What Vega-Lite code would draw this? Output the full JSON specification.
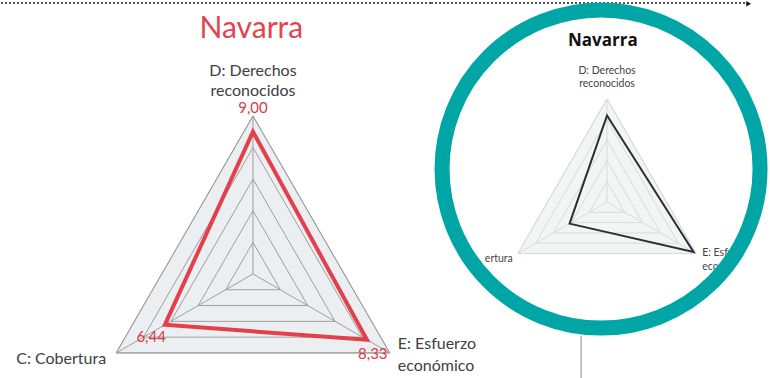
{
  "$schema": "https://vega.github.io/schema/vega-lite/v6.json",
  "background": "white",
  "padding": 0,
  "spacing": 0,
  "bounds": "flush",
  "datasets": {
    "axes": [
      {"axis": "D", "i": 0, "name": "D: Derechos\nreconocidos"},
      {"axis": "E", "i": 1, "name": "E: Esfuerzo\neconómico"},
      {"axis": "C", "i": 2, "name": "C: Cobertura"}
    ],
    "insetAxes": [
      {"axis": "D", "i": 0, "name": "D: Derechos\nreconocidos"},
      {"axis": "E", "i": 1, "name": "E: Esfu\necon"},
      {"axis": "C", "i": 2, "name": "ertura"}
    ],
    "main": [
      {"axis": "D", "i": 0, "v": 9.00},
      {"axis": "E", "i": 1, "v": 8.33},
      {"axis": "C", "i": 2, "v": 6.44}
    ],
    "inset": [
      {"axis": "D", "i": 0, "v": 8.4},
      {"axis": "E", "i": 1, "v": 9.7},
      {"axis": "C", "i": 2, "v": 4.2}
    ],
    "rings": [
      {"level": 2, "i": 0}, {"level": 2, "i": 1}, {"level": 2, "i": 2},
      {"level": 4, "i": 0}, {"level": 4, "i": 1}, {"level": 4, "i": 2},
      {"level": 6, "i": 0}, {"level": 6, "i": 1}, {"level": 6, "i": 2},
      {"level": 8, "i": 0}, {"level": 8, "i": 1}, {"level": 8, "i": 2},
      {"level": 10, "i": 0}, {"level": 10, "i": 1}, {"level": 10, "i": 2}
    ],
    "titles": [{"t": "Navarra"}]
  },
  "hconcat": [
    {
      "width": 430,
      "height": 378,
      "layer": [
        {
          "data": {"name": "titles"},
          "mark": {"type": "rule", "strokeDash": [2, 2], "color": "#222", "strokeWidth": 1.5},
          "encoding": {
            "x": {"datum": -15.95, "type": "quantitative", "scale": {"domain": [-15.95, 11.27], "nice": false, "zero": false}, "axis": null},
            "x2": {"datum": 11.27},
            "y": {"datum": 17.15, "type": "quantitative", "scale": {"domain": [-6.65, 17.28], "nice": false, "zero": false}, "axis": null}
          }
        },
        {
          "data": {"name": "rings"},
          "transform": [
            {"filter": "datum.level == 10"},
            {"calculate": "datum.level * sin(datum.i * 2 * PI / 3)", "as": "x"},
            {"calculate": "datum.level * cos(datum.i * 2 * PI / 3)", "as": "y"}
          ],
          "mark": {"type": "line", "interpolate": "linear-closed", "fill": "#eceff1", "stroke": "#9a9a9a", "strokeWidth": 1},
          "encoding": {
            "x": {"field": "x", "type": "quantitative", "scale": {"domain": [-15.95, 11.27], "nice": false, "zero": false}, "axis": null},
            "y": {"field": "y", "type": "quantitative", "scale": {"domain": [-6.65, 17.28], "nice": false, "zero": false}, "axis": null},
            "order": {"field": "i"}
          }
        },
        {
          "data": {"name": "rings"},
          "transform": [
            {"calculate": "datum.level * sin(datum.i * 2 * PI / 3)", "as": "x"},
            {"calculate": "datum.level * cos(datum.i * 2 * PI / 3)", "as": "y"}
          ],
          "mark": {"type": "line", "interpolate": "linear-closed", "stroke": "#9e9e9e", "strokeWidth": 1},
          "encoding": {
            "x": {"field": "x", "type": "quantitative", "scale": {"domain": [-15.95, 11.27], "nice": false, "zero": false}, "axis": null},
            "y": {"field": "y", "type": "quantitative", "scale": {"domain": [-6.65, 17.28], "nice": false, "zero": false}, "axis": null},
            "detail": {"field": "level"},
            "order": {"field": "i"}
          }
        },
        {
          "data": {"name": "axes"},
          "transform": [
            {"calculate": "10 * sin(datum.i * 2 * PI / 3)", "as": "x"},
            {"calculate": "10 * cos(datum.i * 2 * PI / 3)", "as": "y"}
          ],
          "mark": {"type": "rule", "stroke": "#9e9e9e", "strokeWidth": 1},
          "encoding": {
            "x": {"field": "x", "type": "quantitative", "scale": {"domain": [-15.95, 11.27], "nice": false, "zero": false}, "axis": null},
            "y": {"field": "y", "type": "quantitative", "scale": {"domain": [-6.65, 17.28], "nice": false, "zero": false}, "axis": null},
            "x2": {"datum": 0},
            "y2": {"datum": 0}
          }
        },
        {
          "data": {"name": "main"},
          "transform": [
            {"calculate": "datum.v * sin(datum.i * 2 * PI / 3)", "as": "x"},
            {"calculate": "datum.v * cos(datum.i * 2 * PI / 3)", "as": "y"}
          ],
          "mark": {"type": "line", "interpolate": "linear-closed", "stroke": "#e4404b", "strokeWidth": 4, "strokeJoin": "miter"},
          "encoding": {
            "x": {"field": "x", "type": "quantitative", "scale": {"domain": [-15.95, 11.27], "nice": false, "zero": false}, "axis": null},
            "y": {"field": "y", "type": "quantitative", "scale": {"domain": [-6.65, 17.28], "nice": false, "zero": false}, "axis": null},
            "order": {"field": "i"}
          }
        },
        {
          "data": {"name": "titles"},
          "mark": {"type": "text", "font": "Lato", "fontSize": 30, "color": "#e0464f", "align": "center", "baseline": "alphabetic"},
          "encoding": {
            "x": {"datum": -0.1, "type": "quantitative", "scale": {"domain": [-15.95, 11.27], "nice": false, "zero": false}, "axis": null},
            "y": {"datum": 14.94, "type": "quantitative", "scale": {"domain": [-6.65, 17.28], "nice": false, "zero": false}, "axis": null},
            "text": {"field": "t"}
          }
        },
        {
          "data": {"name": "axes"},
          "transform": [
            {"filter": "datum.axis == 'D'"},
            {"calculate": "10 * sin(datum.i * 2 * PI / 3)", "as": "x"},
            {"calculate": "10 * cos(datum.i * 2 * PI / 3)", "as": "y"}
          ],
          "mark": {"type": "text", "font": "Lato", "fontSize": 16, "color": "#404040", "align": "center", "baseline": "alphabetic", "dy": -40, "lineHeight": 20, "lineBreak": "\n"},
          "encoding": {
            "x": {"field": "x", "type": "quantitative", "scale": {"domain": [-15.95, 11.27], "nice": false, "zero": false}, "axis": null},
            "y": {"field": "y", "type": "quantitative", "scale": {"domain": [-6.65, 17.28], "nice": false, "zero": false}, "axis": null},
            "text": {"field": "name"}
          }
        },
        {
          "data": {"name": "axes"},
          "transform": [
            {"filter": "datum.axis == 'C'"},
            {"calculate": "10 * sin(datum.i * 2 * PI / 3)", "as": "x"},
            {"calculate": "10 * cos(datum.i * 2 * PI / 3)", "as": "y"}
          ],
          "mark": {"type": "text", "font": "Lato", "fontSize": 16, "color": "#404040", "align": "right", "baseline": "middle", "dx": -10, "dy": 6},
          "encoding": {
            "x": {"field": "x", "type": "quantitative", "scale": {"domain": [-15.95, 11.27], "nice": false, "zero": false}, "axis": null},
            "y": {"field": "y", "type": "quantitative", "scale": {"domain": [-6.65, 17.28], "nice": false, "zero": false}, "axis": null},
            "text": {"field": "name"}
          }
        },
        {
          "data": {"name": "axes"},
          "transform": [
            {"filter": "datum.axis == 'E'"},
            {"calculate": "10 * sin(datum.i * 2 * PI / 3)", "as": "x"},
            {"calculate": "10 * cos(datum.i * 2 * PI / 3)", "as": "y"}
          ],
          "mark": {"type": "text", "font": "Lato", "fontSize": 16, "color": "#404040", "align": "left", "baseline": "alphabetic", "dx": 8, "dy": -4, "lineHeight": 22, "lineBreak": "\n"},
          "encoding": {
            "x": {"field": "x", "type": "quantitative", "scale": {"domain": [-15.95, 11.27], "nice": false, "zero": false}, "axis": null},
            "y": {"field": "y", "type": "quantitative", "scale": {"domain": [-6.65, 17.28], "nice": false, "zero": false}, "axis": null},
            "text": {"field": "name"}
          }
        },
        {
          "data": {"name": "main"},
          "transform": [
            {"filter": "datum.axis == 'D'"},
            {"calculate": "10 * sin(datum.i * 2 * PI / 3)", "as": "x"},
            {"calculate": "10 * cos(datum.i * 2 * PI / 3)", "as": "y"}
          ],
          "mark": {"type": "text", "font": "Lato", "fontSize": 15, "color": "#d83a46", "align": "center", "baseline": "middle", "dy": -8},
          "encoding": {
            "x": {"field": "x", "type": "quantitative", "scale": {"domain": [-15.95, 11.27], "nice": false, "zero": false}, "axis": null},
            "y": {"field": "y", "type": "quantitative", "scale": {"domain": [-6.65, 17.28], "nice": false, "zero": false}, "axis": null},
            "text": {"field": "v", "type": "quantitative", "format": ".2f"}
          }
        },
        {
          "data": {"name": "main"},
          "transform": [
            {"filter": "datum.axis == 'C'"},
            {"calculate": "10 * sin(datum.i * 2 * PI / 3)", "as": "x"},
            {"calculate": "10 * cos(datum.i * 2 * PI / 3)", "as": "y"}
          ],
          "mark": {"type": "text", "font": "Lato", "fontSize": 15, "color": "#d83a46", "align": "center", "baseline": "middle", "dx": 35, "dy": -16},
          "encoding": {
            "x": {"field": "x", "type": "quantitative", "scale": {"domain": [-15.95, 11.27], "nice": false, "zero": false}, "axis": null},
            "y": {"field": "y", "type": "quantitative", "scale": {"domain": [-6.65, 17.28], "nice": false, "zero": false}, "axis": null},
            "text": {"field": "v", "type": "quantitative", "format": ".2f"}
          }
        },
        {
          "data": {"name": "main"},
          "transform": [
            {"filter": "datum.axis == 'E'"},
            {"calculate": "10 * sin(datum.i * 2 * PI / 3)", "as": "x"},
            {"calculate": "10 * cos(datum.i * 2 * PI / 3)", "as": "y"}
          ],
          "mark": {"type": "text", "font": "Lato", "fontSize": 15, "color": "#d83a46", "align": "center", "baseline": "middle", "dx": -17, "dy": 1},
          "encoding": {
            "x": {"field": "x", "type": "quantitative", "scale": {"domain": [-15.95, 11.27], "nice": false, "zero": false}, "axis": null},
            "y": {"field": "y", "type": "quantitative", "scale": {"domain": [-6.65, 17.28], "nice": false, "zero": false}, "axis": null},
            "text": {"field": "v", "type": "quantitative", "format": ".2f"}
          }
        }
      ]
    },
    {
      "width": 340,
      "height": 378,
      "layer": [
        {
          "data": {"name": "titles"},
          "mark": {"type": "rule", "strokeDash": [2, 2], "color": "#222", "strokeWidth": 1.5},
          "encoding": {
            "x": {"datum": -17.09, "type": "quantitative", "scale": {"domain": [-17.09, 15.92], "nice": false, "zero": false}, "axis": null},
            "x2": {"datum": 13.5},
            "y": {"datum": 19.32, "type": "quantitative", "scale": {"domain": [-17.18, 19.51], "nice": false, "zero": false}, "axis": null}
          }
        },
        {
          "data": {"name": "titles"},
          "mark": {"type": "point", "shape": "triangle-right", "filled": true, "color": "#111", "size": 30, "opacity": 1},
          "encoding": {
            "x": {"datum": 13.75, "type": "quantitative", "scale": {"domain": [-17.09, 15.92], "nice": false, "zero": false}, "axis": null},
            "y": {"datum": 19.25, "type": "quantitative", "scale": {"domain": [-17.18, 19.51], "nice": false, "zero": false}, "axis": null}
          }
        },
        {
          "data": {"name": "rings"},
          "transform": [
            {"filter": "datum.level == 10"},
            {"calculate": "datum.level * sin(datum.i * 2 * PI / 3)", "as": "x"},
            {"calculate": "datum.level * cos(datum.i * 2 * PI / 3)", "as": "y"}
          ],
          "mark": {"type": "line", "interpolate": "linear-closed", "fill": "#f3f4f4", "stroke": "#d4d4d4", "strokeWidth": 1},
          "encoding": {
            "x": {"field": "x", "type": "quantitative", "scale": {"domain": [-17.09, 15.92], "nice": false, "zero": false}, "axis": null},
            "y": {"field": "y", "type": "quantitative", "scale": {"domain": [-17.18, 19.51], "nice": false, "zero": false}, "axis": null},
            "order": {"field": "i"}
          }
        },
        {
          "data": {"name": "rings"},
          "transform": [
            {"calculate": "datum.level * sin(datum.i * 2 * PI / 3)", "as": "x"},
            {"calculate": "datum.level * cos(datum.i * 2 * PI / 3)", "as": "y"}
          ],
          "mark": {"type": "line", "interpolate": "linear-closed", "stroke": "#dadada", "strokeWidth": 1},
          "encoding": {
            "x": {"field": "x", "type": "quantitative", "scale": {"domain": [-17.09, 15.92], "nice": false, "zero": false}, "axis": null},
            "y": {"field": "y", "type": "quantitative", "scale": {"domain": [-17.18, 19.51], "nice": false, "zero": false}, "axis": null},
            "detail": {"field": "level"},
            "order": {"field": "i"}
          }
        },
        {
          "data": {"name": "insetAxes"},
          "transform": [
            {"calculate": "10 * sin(datum.i * 2 * PI / 3)", "as": "x"},
            {"calculate": "10 * cos(datum.i * 2 * PI / 3)", "as": "y"}
          ],
          "mark": {"type": "rule", "stroke": "#dadada", "strokeWidth": 1},
          "encoding": {
            "x": {"field": "x", "type": "quantitative", "scale": {"domain": [-17.09, 15.92], "nice": false, "zero": false}, "axis": null},
            "y": {"field": "y", "type": "quantitative", "scale": {"domain": [-17.18, 19.51], "nice": false, "zero": false}, "axis": null},
            "x2": {"datum": 0},
            "y2": {"datum": 0}
          }
        },
        {
          "data": {"name": "inset"},
          "transform": [
            {"calculate": "datum.v * sin(datum.i * 2 * PI / 3)", "as": "x"},
            {"calculate": "datum.v * cos(datum.i * 2 * PI / 3)", "as": "y"}
          ],
          "mark": {"type": "line", "interpolate": "linear-closed", "stroke": "#2e2e2e", "strokeWidth": 2},
          "encoding": {
            "x": {"field": "x", "type": "quantitative", "scale": {"domain": [-17.09, 15.92], "nice": false, "zero": false}, "axis": null},
            "y": {"field": "y", "type": "quantitative", "scale": {"domain": [-17.18, 19.51], "nice": false, "zero": false}, "axis": null},
            "order": {"field": "i"}
          }
        },
        {
          "data": {"name": "titles"},
          "mark": {"type": "text", "font": "Open Sans", "fontSize": 17, "fontWeight": "bold", "color": "#111", "align": "center", "baseline": "alphabetic"},
          "encoding": {
            "x": {"datum": -0.4, "type": "quantitative", "scale": {"domain": [-17.09, 15.92], "nice": false, "zero": false}, "axis": null},
            "y": {"datum": 15.15, "type": "quantitative", "scale": {"domain": [-17.18, 19.51], "nice": false, "zero": false}, "axis": null},
            "text": {"field": "t"}
          }
        },
        {
          "data": {"name": "insetAxes"},
          "transform": [
            {"filter": "datum.axis == 'D'"},
            {"calculate": "10 * sin(datum.i * 2 * PI / 3)", "as": "x"},
            {"calculate": "10 * cos(datum.i * 2 * PI / 3)", "as": "y"}
          ],
          "mark": {"type": "text", "font": "Lato", "fontSize": 10.5, "color": "#444", "align": "center", "baseline": "alphabetic", "dy": -25, "lineHeight": 13, "lineBreak": "\n"},
          "encoding": {
            "x": {"field": "x", "type": "quantitative", "scale": {"domain": [-17.09, 15.92], "nice": false, "zero": false}, "axis": null},
            "y": {"field": "y", "type": "quantitative", "scale": {"domain": [-17.18, 19.51], "nice": false, "zero": false}, "axis": null},
            "text": {"field": "name"}
          }
        },
        {
          "data": {"name": "insetAxes"},
          "transform": [
            {"filter": "datum.axis == 'C'"},
            {"calculate": "10 * sin(datum.i * 2 * PI / 3)", "as": "x"},
            {"calculate": "10 * cos(datum.i * 2 * PI / 3)", "as": "y"}
          ],
          "mark": {"type": "text", "font": "Lato", "fontSize": 10.5, "color": "#444", "align": "right", "baseline": "middle", "dx": -5, "dy": 5},
          "encoding": {
            "x": {"field": "x", "type": "quantitative", "scale": {"domain": [-17.09, 15.92], "nice": false, "zero": false}, "axis": null},
            "y": {"field": "y", "type": "quantitative", "scale": {"domain": [-17.18, 19.51], "nice": false, "zero": false}, "axis": null},
            "text": {"field": "name"}
          }
        },
        {
          "data": {"name": "insetAxes"},
          "transform": [
            {"filter": "datum.axis == 'E'"},
            {"calculate": "10 * sin(datum.i * 2 * PI / 3)", "as": "x"},
            {"calculate": "10 * cos(datum.i * 2 * PI / 3)", "as": "y"}
          ],
          "mark": {"type": "text", "font": "Lato", "fontSize": 10.5, "color": "#444", "align": "left", "baseline": "alphabetic", "dx": 6, "dy": 2, "lineHeight": 14, "lineBreak": "\n"},
          "encoding": {
            "x": {"field": "x", "type": "quantitative", "scale": {"domain": [-17.09, 15.92], "nice": false, "zero": false}, "axis": null},
            "y": {"field": "y", "type": "quantitative", "scale": {"domain": [-17.18, 19.51], "nice": false, "zero": false}, "axis": null},
            "text": {"field": "name"}
          }
        },
        {
          "data": {"name": "titles"},
          "mark": {"type": "rule", "stroke": "#8a8a8a", "strokeWidth": 1},
          "encoding": {
            "x": {"datum": -2.52, "type": "quantitative", "scale": {"domain": [-17.09, 15.92], "nice": false, "zero": false}, "axis": null},
            "y": {"datum": -13.0, "type": "quantitative", "scale": {"domain": [-17.18, 19.51], "nice": false, "zero": false}, "axis": null},
            "y2": {"datum": -17.18}
          }
        },
        {
          "data": {"name": "titles"},
          "mark": {"type": "point", "shape": "circle", "filled": false, "stroke": "#00a6a6", "strokeWidth": 15, "size": 101124, "opacity": 1, "clip": true},
          "encoding": {
            "x": {"datum": -0.58, "type": "quantitative", "scale": {"domain": [-17.09, 15.92], "nice": false, "zero": false}, "axis": null},
            "y": {"datum": 3.2, "type": "quantitative", "scale": {"domain": [-17.18, 19.51], "nice": false, "zero": false}, "axis": null}
          }
        }
      ]
    }
  ],
  "config": {
    "view": {"stroke": null},
    "locale": {"number": {"decimal": ",", "thousands": ".", "grouping": [3], "currency": ["", " €"]}}
  }
}
